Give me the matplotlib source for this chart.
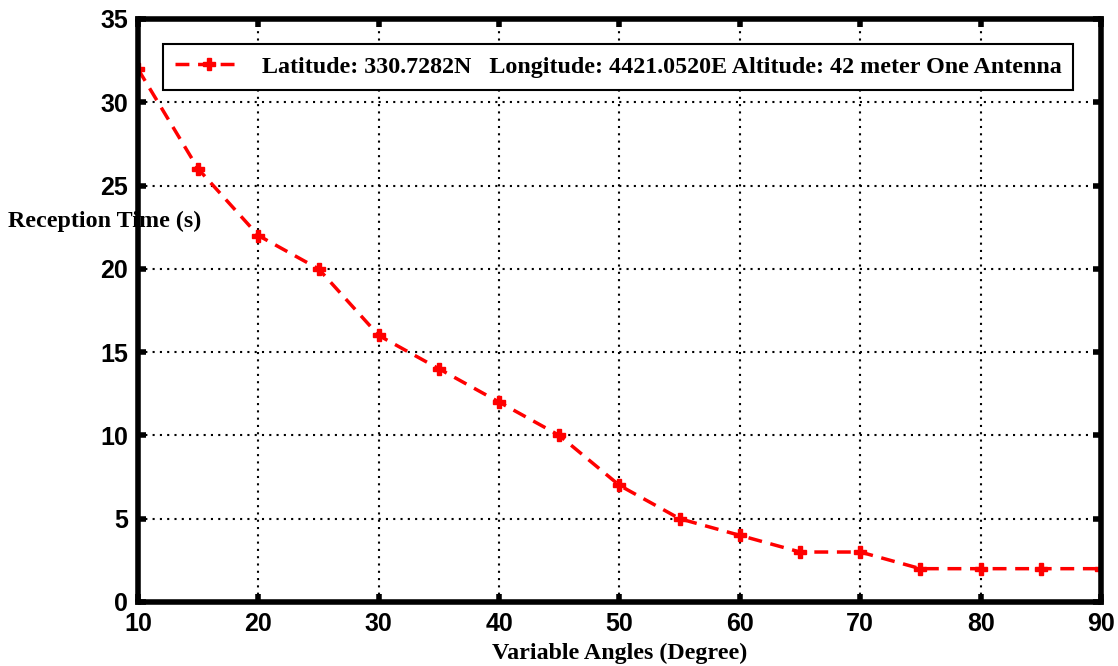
import matplotlib
matplotlib.use("Agg")
import matplotlib.pyplot as plt

angles = [10, 15, 20, 25, 30, 35, 40, 45, 50, 55, 60, 65, 70, 75, 80, 85, 90]
reception_time = [32, 26, 22, 20, 16, 14, 12, 10, 7, 5, 4, 3, 3, 2, 2, 2, 2]
xticks = [10, 20, 30, 40, 50, 60, 70, 80, 90]
yticks = [0, 5, 10, 15, 20, 25, 30, 35]
label = "Latitude: 330.7282N   Longitude: 4421.0520E Altitude: 42 meter One Antenna"

serif = ["Liberation Serif", "DejaVu Serif"]
sans = ["Liberation Sans", "DejaVu Sans"]

fig = plt.figure(figsize=(11.18, 6.66), dpi=100)
ax = fig.add_axes([0.1234, 0.0961, 0.8614, 0.8754])

ax.plot(angles, reception_time, "r--", lw=2.5, marker="P", markersize=8,
        dashes=(4, 2.5), label=label)

ax.set_xlim(10, 90)
ax.set_ylim(0, 35)
ax.set_xticks(xticks)
ax.set_yticks(yticks)
ax.grid(True, color="k", linestyle=(0, (1, 2.5)), lw=1.5)
for s in ax.spines.values():
    s.set_linewidth(4)
ax.tick_params(direction="in", length=6, width=4, pad=7,
               top=True, right=True)
for t in ax.get_xticklabels() + ax.get_yticklabels():
    t.set_fontfamily(sans)
    t.set_fontweight("bold")
    t.set_fontsize(18)

ax.set_xlabel("Variable Angles (Degree)", family=serif, fontweight="bold",
              fontsize=17.3, labelpad=5)
fig.text(0.007, 0.668, "Reception Time (s)", family=serif, fontweight="bold",
         fontsize=17.3, ha="left", va="center")

leg = ax.legend(loc="upper left", bbox_to_anchor=(0.026, 0.957),
                prop={"family": serif, "weight": "bold", "size": 17.3},
                fancybox=False, edgecolor="k", framealpha=1,
                handlelength=2.8, borderpad=0.5, borderaxespad=0)
leg.get_frame().set_linewidth(1.5)

fig.savefig("out.png", dpi=100)
